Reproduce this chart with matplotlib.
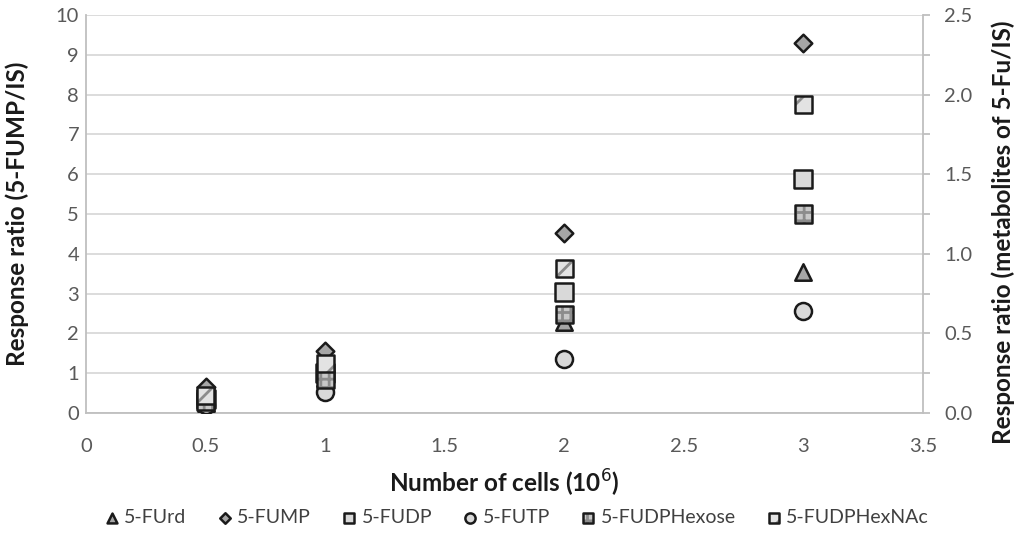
import matplotlib
matplotlib.use("Agg")
import matplotlib.pyplot as plt
from matplotlib.legend_handler import HandlerTuple
import numpy as np

plt.rcParams['font.family'] = ['Lato', 'DejaVu Sans']

cells = [0.5, 1, 2, 3]
fump = [0.65, 1.55, 4.52, 9.3]          # left axis
furd = [0.06, 0.22, 0.57, 0.885]        # right axis
fudp = [0.09, 0.25, 0.76, 1.47]
futp = [0.05, 0.13, 0.34, 0.64]
fudphexose = [0.07, 0.21, 0.62, 1.25]
fudphexnac = [0.11, 0.31, 0.91, 1.935]

x_ticks = [0, 0.5, 1, 1.5, 2, 2.5, 3, 3.5]
y_left_ticks = list(range(0, 11))
y_right_ticks = [0.0, 0.5, 1.0, 1.5, 2.0, 2.5]

fig = plt.figure(figsize=(10.14, 5.36), dpi=100)
ax = fig.add_axes([0.0848, 0.2295, 0.8255, 0.7425])
ax2 = ax.twinx()

tick_col = '#595959'
spine_col = '#bfbfbf'
ax.set_xlim(0, 3.5)
ax.set_ylim(0, 10)
ax2.set_ylim(0, 2.5)
ax.set_xticks(x_ticks)
ax.set_xticklabels(['0', '0.5', '1', '1.5', '2', '2.5', '3', '3.5'])
ax.set_yticks(y_left_ticks)
ax2.set_yticks(y_right_ticks)
ax2.set_yticks(np.arange(0, 2.51, 0.25), minor=True)
ax2.set_yticklabels([f'{v:.1f}' for v in y_right_ticks])
ax.grid(axis='y', color='#d9d9d9', linewidth=1.3)
ax.set_axisbelow(True)
for a in (ax, ax2):
    a.spines['top'].set_visible(False)
ax2.spines['left'].set_visible(False)
ax2.spines['bottom'].set_visible(False)
ax.spines['right'].set_visible(False)
for sp in [ax.spines['left'], ax.spines['bottom'], ax2.spines['right']]:
    sp.set_color(spine_col)
    sp.set_linewidth(1.3)
ax.tick_params(axis='x', length=0, labelsize=14.5, colors=tick_col, pad=18)
ax.tick_params(axis='y', length=0, labelsize=14.5, colors=tick_col, pad=5)
ax2.tick_params(axis='y', which='both', length=5, width=1.3, color=spine_col, direction='out',
                labelsize=14.5, labelcolor=tick_col, pad=10)

ec = '#1a1a1a'
lw = 1.8
S = 150
plt.rcParams['hatch.linewidth'] = 2.0
h = {}
h['5-FUMP'] = ax.scatter(cells, fump, marker='D', s=80, facecolor='#a6a6a6', edgecolor=ec, linewidths=lw, zorder=3)
h['5-FUrd'] = ax2.scatter(cells, furd, marker='^', s=140, facecolor='#a6a6a6', edgecolor=ec, linewidths=lw, zorder=3)
h['5-FUDP'] = ax2.scatter(cells, fudp, marker='s', s=S, facecolor='#d9d9d9', edgecolor=ec, linewidths=lw, zorder=3)
h['5-FUTP'] = ax2.scatter(cells, futp, marker='o', s=S, facecolor='#d9d9d9', edgecolor=ec, linewidths=lw, zorder=3)

hx_fill = ax2.scatter(cells, fudphexose, marker='s', s=S, facecolor='#c8c8c8', edgecolor='#8c8c8c', linewidths=0, hatch='++', zorder=4)
hx_edge = ax2.scatter(cells, fudphexose, marker='s', s=S, facecolor='none', edgecolor=ec, linewidths=lw, zorder=4.1)
h['5-FUDPHexose'] = (hx_fill, hx_edge)
hn_fill = ax2.scatter(cells, fudphexnac, marker='s', s=S, facecolor='#e3e3e3', edgecolor='#8c8c8c', linewidths=0, hatch='/', zorder=5)
hn_edge = ax2.scatter(cells, fudphexnac, marker='s', s=S, facecolor='none', edgecolor=ec, linewidths=lw, zorder=5.1)
h['5-FUDPHexNAc'] = (hn_fill, hn_edge)

lab_kw = dict(fontsize=17.5, fontweight='bold', color='#1a1a1a')
ax.set_xlabel('Number of cells (10$^{6}$)', va='center', **lab_kw)
ax.xaxis.set_label_coords(0.5, -0.176)
ax.set_ylabel('Response ratio (5-FUMP/IS)', va='center', **lab_kw)
ax.yaxis.set_label_coords(-0.0824, 0.5)
ax2.set_ylabel('Response ratio (metabolites of 5-Fu/IS)', va='center', **lab_kw)
ax2.yaxis.set_label_coords(1.0956, 0.455)

order = ['5-FUrd', '5-FUMP', '5-FUDP', '5-FUTP', '5-FUDPHexose', '5-FUDPHexNAc']
fig.legend([h[k] for k in order], order, loc='center', bbox_to_anchor=(0.507, 0.034), ncol=6,
           frameon=False, fontsize=14, handletextpad=0.0, columnspacing=1.3, markerscale=0.6,
           handlelength=1.3, labelcolor='#404040', handler_map={tuple: HandlerTuple(ndivide=1)})

fig.savefig('out.png', dpi=100)
